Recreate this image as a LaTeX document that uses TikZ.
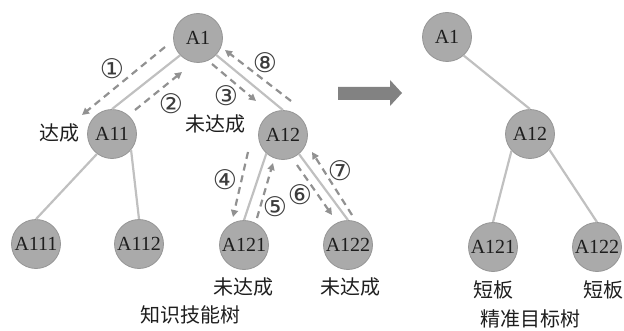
\documentclass[tikz,border=0pt]{standalone}
\usepackage{fontspec}
\setmainfont{Liberation Serif}
\newfontfamily\cjk{Noto Sans CJK SC}
\newfontfamily\circfont{DejaVu Sans}
\usetikzlibrary{arrows.meta}
\definecolor{nodegray}{RGB}{170,170,170}
\definecolor{nodeborder}{RGB}{150,150,150}
\definecolor{edgegray}{RGB}{192,192,192}
\definecolor{dashgray}{RGB}{145,145,145}
\definecolor{bigarrow}{RGB}{130,130,130}
\definecolor{textc}{RGB}{30,30,30}
\definecolor{numc}{RGB}{60,60,60}
\begin{document}
\begin{tikzpicture}[x=1pt,y=1pt,
  tnode/.style={circle, fill=nodegray, draw=nodeborder, line width=0.8pt, minimum size=49pt, inner sep=0pt, font=\fontsize{20}{24}\selectfont, text=textc},
  edge/.style={draw=edgegray, line width=2.2pt},
  dasharr/.style={draw=dashgray, line width=2.2pt, dash pattern=on 7pt off 5pt, -{Triangle[length=7pt,width=7pt]}},
  num/.style={font=\circfont\fontsize{27}{30}\selectfont, text=numc, inner sep=0pt},
  lab/.style={font=\cjk\fontsize{20}{24}\selectfont, text=textc, inner sep=0pt}
]
\useasboundingbox (0,0) rectangle (624,330);

% left tree
\node[tnode] (A1) at (198,292) {A1};
\node[tnode] (A11) at (112,196) {A11};
\node[tnode] (A12) at (283,195) {A12};
\node[tnode] (A111) at (36,86) {A111};
\node[tnode] (A112) at (139,86) {A112};
\node[tnode] (A121) at (244,85) {A121};
\node[tnode] (A122) at (348,85) {A122};

\draw[edge] (A1.-136) -- (A11.north);
\draw[edge] (A1.-43) -- (A12.north);
\draw[edge] (A11.-127) -- (A111.north);
\draw[edge] (A11.-40) -- (A112.north);
\draw[edge] (A12.-132) -- (A121.north);
\draw[edge] (A12.-50) -- (A122.north);

% dashed traversal arrows
\coordinate (d1s) at (165,283); \coordinate (d1t) at (82,215);
\coordinate (d2s) at (135,220); \coordinate (d2t) at (182,258);
\coordinate (d3s) at (212,266); \coordinate (d3t) at (256,229);
\coordinate (d8s) at (291,229); \coordinate (d8t) at (225,280);
\coordinate (d4s) at (248,178); \coordinate (d4t) at (233,113);
\coordinate (d5s) at (257,112); \coordinate (d5t) at (273,167);
\coordinate (d6s) at (297,165); \coordinate (d6t) at (332,115);
\coordinate (d7s) at (352,115); \coordinate (d7t) at (312,178);
\draw[dasharr] (d1s) -- (d1t);
\draw[dasharr] (d2s) -- (d2t);
\draw[dasharr] (d3s) -- (d3t);
\draw[dasharr] (d8s) -- (d8t);
\draw[dasharr] (d4s) -- (d4t);
\draw[dasharr] (d5s) -- (d5t);
\draw[dasharr] (d6s) -- (d6t);
\draw[dasharr] (d7s) -- (d7t);

\node[num] (n1) at (112,261) {①};
\node[num] (n2) at (171,226) {②};
\node[num] (n3) at (226,234) {③};
\node[num] (n8) at (265,267) {⑧};
\node[num] (n4) at (225,150) {④};
\node[num] (n5) at (275,123) {⑤};
\node[num] (n6) at (300,135) {⑥};
\node[num] (n7) at (340,159) {⑦};

\node[lab] (l1) at (59,197) {达成};
\node[lab] (l2) at (215,206) {未达成};
\node[lab] (l3) at (243,43) {未达成};
\node[lab] (l4) at (350,43) {未达成};
\node[lab] (l5) at (190,15) {知识技能树};

% big arrow
\fill[bigarrow] (338,230) -- (390,230) -- (390,224) -- (402,237) -- (390,250) -- (390,243) -- (338,243) -- cycle;

% right tree
\node[tnode] (B1) at (447,293) {A1};
\node[tnode] (B12) at (530,196) {A12};
\node[tnode] (B121) at (493,83) {A121};
\node[tnode] (B122) at (597,83) {A122};
\draw[edge] (B1.-48) -- (B12.north);
\draw[edge] (B12.-138) -- (B121.north);
\draw[edge] (B12.-39) -- (B122.north);

\node[lab] (r1) at (493,40) {短板};
\node[lab] (r2) at (603,40) {短板};
\node[lab] (r3) at (530,11) {精准目标树};
\end{tikzpicture}
\end{document}
